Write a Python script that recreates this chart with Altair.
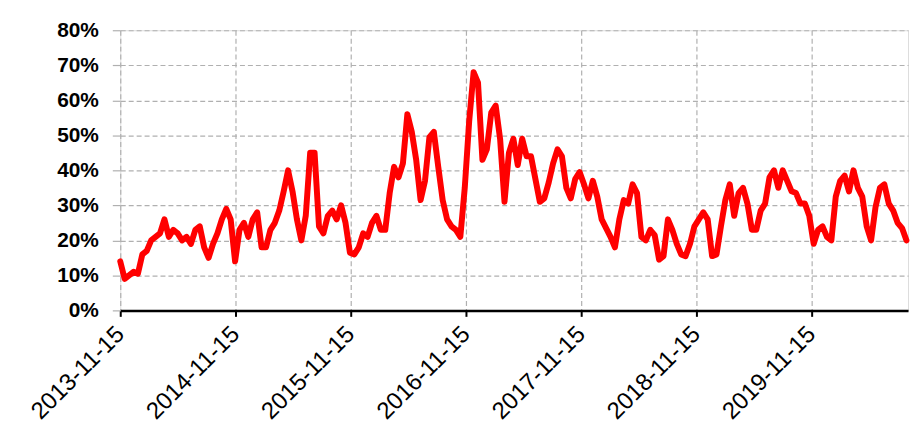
import altair as alt
import pandas as pd

# Biweekly readings (percent) starting 2013-11-15
values = [
    14, 9, 10, 11, 10.5, 16, 17, 20, 21, 22, 26, 21, 23, 22, 20, 21, 19, 23, 24, 18,
    15, 19, 22, 26, 29, 26, 14, 23, 25, 21, 26, 28, 18, 18, 23, 25, 28.5, 34, 40, 34,
    26, 20, 27, 45, 45, 24, 22, 27, 28.5, 26, 30, 25, 16.5, 16, 18, 22, 21, 25, 27, 23,
    23, 33.5, 41, 38, 42, 56, 51, 43, 31.5, 37, 49.5, 51, 41, 31.5, 26, 24, 23, 21, 35, 54,
    68, 65, 43, 46, 56.5, 58.5, 49, 31, 45, 49, 41.5, 49, 44, 44, 37.5, 31, 32, 36.5, 42, 46,
    44, 35, 32, 37.5, 39.5, 36, 32, 37, 32.5, 26, 23.5, 21, 18, 26, 31.5, 30.5, 36, 33.5, 21, 20,
    23, 21.5, 14.5, 15.5, 26, 23, 19, 16, 15.5, 19, 24, 26, 28, 26, 15.5, 16, 24, 31.5, 36, 27,
    33.5, 35, 30.5, 23, 23, 28.5, 30.5, 38, 40, 35, 40, 37, 34, 33.5, 30.5, 30.5, 27, 19, 23, 24,
    21, 20, 32.5, 37, 38.5, 34, 40, 35, 32.5, 24, 20, 29.5, 35, 36, 30.5, 28.5, 25, 23.5, 20,
]
start_date = "2013-11-15"
tick_dates = ["2013-11-15", "2014-11-15", "2015-11-15", "2016-11-15",
              "2017-11-15", "2018-11-15", "2019-11-15"]
y_ticks = [0, 10, 20, 30, 40, 50, 60, 70, 80]

dates = pd.date_range(start_date, periods=len(values), freq="14D")
df = pd.DataFrame({"date": dates.strftime("%Y-%m-%d"), "value": values})


def dt(s):
    y, m, d = (int(p) for p in s.split("-"))
    return alt.DateTime(year=y, month=m, date=d, utc=True)


grid_color = "#b0b0b0"
font = "Liberation Sans"

chart = alt.Chart(df).mark_line(
    color="#ff0000", strokeWidth=6, strokeJoin="round", strokeCap="round"
).encode(
    x=alt.X(
        "date:T",
        scale=alt.Scale(type="utc", domain=[dt("2013-11-15"), dt("2020-09-16")], nice=False),
        axis=alt.Axis(
            values=[dt(s) for s in tick_dates],
            format="%Y-%m-%d",
            title=None,
            labelAngle=-45,
            labelAlign="right",
            labelBaseline="middle",
            labelPadding=14,
            labelFont=font,
            labelFontSize=24,
            labelColor="#000000",
            labelOverlap=False,
            labelFlush=False,
            domainColor="#000000",
            domainWidth=2.5,
            tickColor="#000000",
            tickWidth=2,
            tickSize=6,
            grid=True,
            gridColor=grid_color,
            gridDash=[5, 3],
            gridWidth=1.2,
        ),
    ),
    y=alt.Y(
        "value:Q",
        scale=alt.Scale(domain=[0, 80], nice=False),
        axis=alt.Axis(
            values=y_ticks,
            labelExpr="datum.value + '%'",
            title=None,
            labelFont=font,
            labelFontSize=21,
            labelFontWeight="bold",
            labelColor="#000000",
            labelPadding=14,
            labelBaseline="middle",
            domain=False,
            tickColor=grid_color,
            tickSize=8,
            tickWidth=1.2,
            grid=True,
            gridColor=grid_color,
            gridDash=[5, 3],
            gridWidth=1.2,
        ),
    ),
).properties(
    width=793,
    height=282,
    autosize=alt.AutoSizeParams(type="none"),
    padding={"left": 113, "top": 21, "right": 2, "bottom": 118},
).configure_view(stroke=None).configure(background="white")

chart.save("out.html", embed_options={"renderer": "svg", "actions": False})
